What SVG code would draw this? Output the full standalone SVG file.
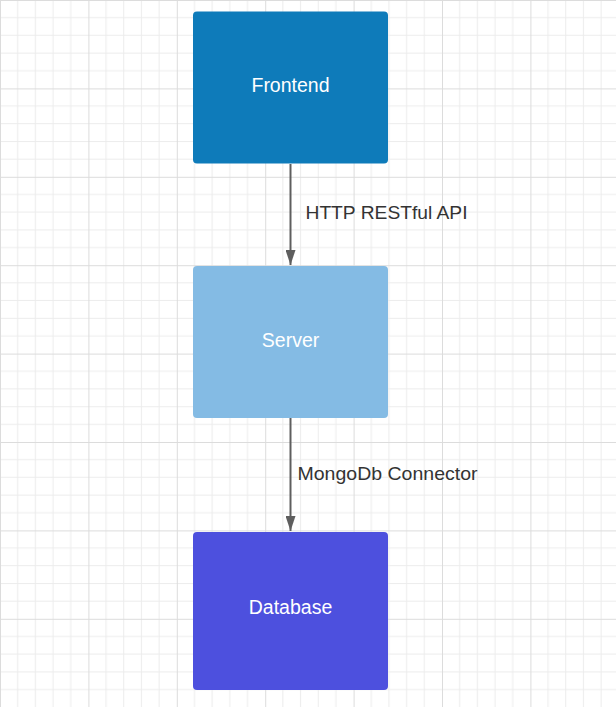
<svg xmlns="http://www.w3.org/2000/svg" width="616" height="707" viewBox="0 0 616 707">
<style>
.node-text{font-family:"Liberation Sans",Arial,sans-serif;font-size:19.5px;fill:#ffffff;text-anchor:middle}
.edge-label{font-family:"Liberation Sans",Arial,sans-serif;font-size:19px;fill:#333333}
.edge{stroke:#5e5e5e;stroke-width:2;fill:none}
</style>
<defs>
<pattern id="grid" patternUnits="userSpaceOnUse" width="88.4" height="88.4">
<g stroke="#ececec" stroke-width="1">
<line x1="17.68" y1="0" x2="17.68" y2="88.4"/>
<line x1="35.36" y1="0" x2="35.36" y2="88.4"/>
<line x1="53.04" y1="0" x2="53.04" y2="88.4"/>
<line x1="70.72" y1="0" x2="70.72" y2="88.4"/>
<line x1="0" y1="17.68" x2="88.4" y2="17.68"/>
<line x1="0" y1="35.36" x2="88.4" y2="35.36"/>
<line x1="0" y1="53.04" x2="88.4" y2="53.04"/>
<line x1="0" y1="70.72" x2="88.4" y2="70.72"/>
</g>
<g stroke="#dcdcdc" stroke-width="1">
<line x1="0.5" y1="0" x2="0.5" y2="88.4"/>
<line x1="0" y1="0.5" x2="88.4" y2="0.5"/>
</g>
</pattern>
<marker id="arrow" markerUnits="userSpaceOnUse" markerWidth="15" markerHeight="10" refX="15" refY="5" viewBox="0 0 15 10" orient="auto">
<path d="M0,0 L15,5 L0,10 Z" fill="#5e5e5e"/>
</marker>
</defs>
<rect width="616" height="707" fill="#ffffff"/>
<rect width="616" height="707" fill="url(#grid)"/>
<g id="connectors">
<line class="edge" x1="290.5" y1="164" x2="290.5" y2="265" marker-end="url(#arrow)"/>
<line class="edge" x1="290.5" y1="418" x2="290.5" y2="531" marker-end="url(#arrow)"/>
<text class="edge-label" x="305.5" y="219.3" textLength="162" lengthAdjust="spacingAndGlyphs">HTTP RESTful API</text>
<text class="edge-label" x="297.5" y="480" textLength="180" lengthAdjust="spacingAndGlyphs">MongoDb Connector</text>
</g>
<g id="frontend">
<rect x="193" y="11.5" width="195" height="152" rx="4" fill="#0e7bba"/>
<text class="node-text" x="290.5" y="91.7">Frontend</text>
</g>
<g id="server">
<rect x="193" y="266" width="195" height="152" rx="4" fill="#84bbe4"/>
<text class="node-text" x="290.5" y="346.7">Server</text>
</g>
<g id="database">
<rect x="193" y="532" width="195" height="158" rx="4" fill="#4d50de"/>
<text class="node-text" x="290.5" y="614.3">Database</text>
</g>
</svg>
